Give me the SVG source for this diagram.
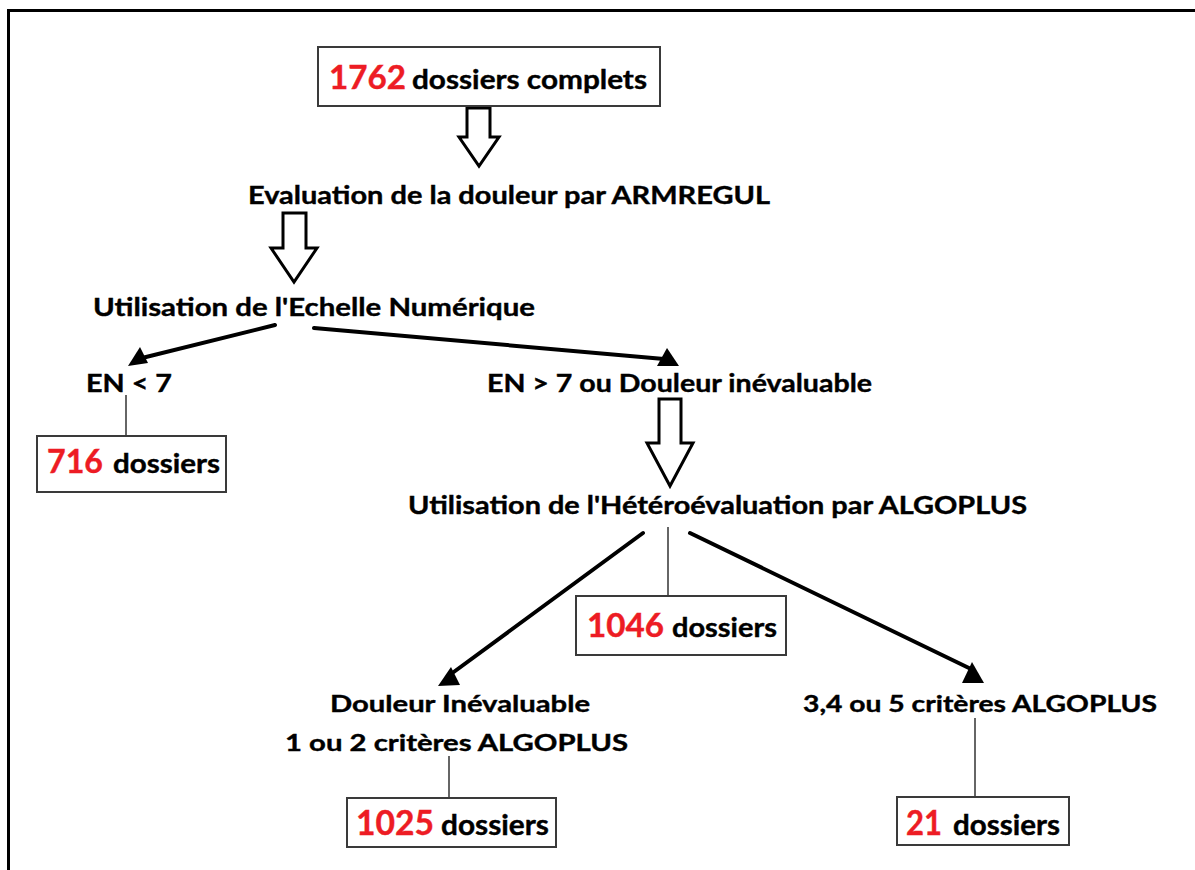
<svg xmlns="http://www.w3.org/2000/svg" width="1195" height="870" viewBox="0 0 1195 870">
<style>
  text { font-family: Lato, "Open Sans", "Liberation Sans", sans-serif; font-weight: bold; fill: #000; stroke: #000; stroke-width: 0.4; }
  .lbl { font-size: 25.5px; }
  .lbl2 { font-size: 23.5px; }
  .num { fill: #ED1C24; stroke: #ED1C24; font-size: 32px; }
  .dos { font-size: 26px; }
  .box { fill: #fff; stroke: #3a3a3a; stroke-width: 2; }
  .hollow { fill: #fff; stroke: #000; stroke-width: 3; stroke-linejoin: miter; }
  .thick { stroke: #000; stroke-width: 4; fill: none; stroke-linecap: round; }
  .thin { stroke: #333; stroke-width: 1.5; fill: none; }
  .head { fill: #000; }
</style>
<rect width="1195" height="870" fill="#fff"/>
<g id="frame">
  <line x1="7" y1="10.5" x2="1195" y2="10.5" stroke="#000" stroke-width="3"/>
  <line x1="8.5" y1="9" x2="8.5" y2="870" stroke="#000" stroke-width="3"/>
</g>
<g id="connectors">
  <polygon class="hollow" points="467,108 490,108 490,137 499,137 479,166 459,137 467,137"/>
  <polygon class="hollow" points="283,213 306,213 306,248 317,248 294,282 271,248 283,248"/>
  <polygon class="hollow" points="659,399 681,399 681,443 693,443 670,486 647,443 659,443"/>
  <line class="thick" x1="275" y1="325" x2="142" y2="358"/>
  <polygon class="head" points="128,366 140,347 148,363"/>
  <line class="thick" x1="314" y1="328" x2="664" y2="359"/>
  <polygon class="head" points="657,366 667,348 679,366"/>
  <line class="thick" x1="643" y1="533" x2="451" y2="674"/>
  <polygon class="head" points="438,686 451,667 460,685"/>
  <line class="thick" x1="690" y1="533" x2="971" y2="669"/>
  <polygon class="head" points="962,683 972,662 984,683"/>
  <line class="thin" x1="126" y1="395" x2="126" y2="437"/>
  <line class="thin" x1="668" y1="527" x2="668" y2="596"/>
  <line class="thin" x1="449" y1="756" x2="449" y2="798"/>
  <line class="thin" x1="975" y1="718" x2="975" y2="797"/>
</g>
<g id="n1762">
  <rect class="box" x="318" y="47" width="342" height="59"/>
  <text class="num" x="329" y="89" textLength="77" lengthAdjust="spacingAndGlyphs">1762</text>
  <text class="dos" x="412" y="89" textLength="235" lengthAdjust="spacingAndGlyphs">dossiers complets</text>
</g>
<g id="armregul">
  <text class="lbl" x="248" y="204" textLength="522" lengthAdjust="spacingAndGlyphs">Evaluation de la douleur par ARMREGUL</text>
</g>
<g id="echelle">
  <text class="lbl" x="93" y="316" textLength="442" lengthAdjust="spacingAndGlyphs">Utilisation de l'Echelle Numérique</text>
</g>
<g id="en_lt7">
  <text class="lbl" x="86" y="392" textLength="86" lengthAdjust="spacingAndGlyphs">EN &lt; 7</text>
</g>
<g id="n716">
  <rect class="box" x="37" y="436" width="189" height="56"/>
  <text class="num" x="47" y="473" textLength="56" lengthAdjust="spacingAndGlyphs">716</text>
  <text class="dos" x="113" y="473" textLength="107" lengthAdjust="spacingAndGlyphs">dossiers</text>
</g>
<g id="en_gt7">
  <text class="lbl" x="487" y="392" textLength="385" lengthAdjust="spacingAndGlyphs">EN &gt; 7 ou Douleur inévaluable</text>
</g>
<g id="algoplus">
  <text class="lbl" x="408" y="514" textLength="619" lengthAdjust="spacingAndGlyphs">Utilisation de l'Hétéroévaluation par ALGOPLUS</text>
</g>
<g id="n1046">
  <rect class="box" x="576" y="596" width="210" height="59"/>
  <text class="num" x="587" y="637" textLength="77" lengthAdjust="spacingAndGlyphs">1046</text>
  <text class="dos" x="672" y="637" textLength="105" lengthAdjust="spacingAndGlyphs">dossiers</text>
</g>
<g id="inevaluable">
  <text class="lbl2" x="330" y="712" textLength="260" lengthAdjust="spacingAndGlyphs">Douleur Inévaluable</text>
  <text class="lbl2" x="285" y="751" textLength="343" lengthAdjust="spacingAndGlyphs">1 ou 2 critères ALGOPLUS</text>
</g>
<g id="criteres345">
  <text class="lbl2" x="803" y="712" textLength="354" lengthAdjust="spacingAndGlyphs">3,4 ou 5 critères ALGOPLUS</text>
</g>
<g id="n1025">
  <rect class="box" x="347" y="798" width="209" height="49"/>
  <text class="num" x="356" y="835" textLength="78" lengthAdjust="spacingAndGlyphs" style="font-size:34px">1025</text>
  <text class="dos" x="441" y="835" textLength="108" lengthAdjust="spacingAndGlyphs" style="font-size:28px">dossiers</text>
</g>
<g id="n21">
  <rect class="box" x="897" y="797" width="172" height="48"/>
  <text class="num" x="906" y="835" textLength="36" lengthAdjust="spacingAndGlyphs" style="font-size:34px">21</text>
  <text class="dos" x="953" y="835" textLength="107" lengthAdjust="spacingAndGlyphs" style="font-size:28px">dossiers</text>
</g>
</svg>
